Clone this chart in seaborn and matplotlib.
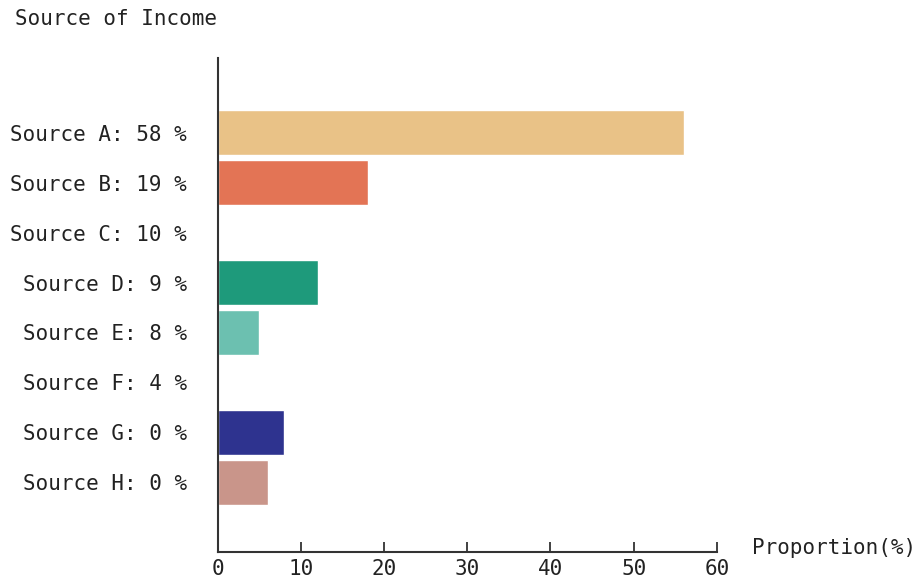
import matplotlib
matplotlib.use("Agg")
import matplotlib.pyplot as plt
import seaborn as sns
import pandas as pd

categories = ["Source A", "Source B", "Source C", "Source D",
              "Source E", "Source F", "Source G", "Source H"]
label_pcts = [58, 19, 10, 9, 8, 4, 0, 0]
bar_values = [56, 18, 0, 12, 5, 0, 8, 6]
colors = ["#E9C287", "#E37455", "#F2A65A", "#1E9A7B",
          "#6CC0B0", "#9CB4D8", "#2E338F", "#C9958A"]
x_ticks = [0, 10, 20, 30, 40, 50, 60]

sns.set_theme(style="white")
plt.rcParams["font.family"] = ["DejaVu Sans Mono", "DejaVu Sans"]

df = pd.DataFrame({"cat": categories, "val": bar_values})

fig = plt.figure(figsize=(9.19, 5.85), dpi=100)
ax = fig.add_axes([0.237, 0.0564, 0.543, 0.8446])

sns.barplot(data=df, x="val", y="cat", hue="cat", order=categories,
            palette=dict(zip(categories, colors)), orient="h",
            width=0.9, legend=False, ax=ax, saturation=1)

fs = 15
ax.set_xlim(0, 60)
ax.set_ylim(len(categories) - 1 + 1.4, -1.5)
ax.set_xticks(x_ticks)
ax.set_xticklabels([str(t) for t in x_ticks], fontsize=fs, color="#222222")
ax.set_yticks(range(len(categories)))
ax.set_yticklabels([f"{c}: {p} %" for c, p in zip(categories, label_pcts)],
                   fontsize=fs, color="#222222")

ax.tick_params(axis="y", length=0, pad=22)
ax.tick_params(axis="x", direction="in", length=7, width=1.3,
               color="#333333", pad=5, bottom=True)

for s in ["top", "right"]:
    ax.spines[s].set_visible(False)
for s in ["left", "bottom"]:
    ax.spines[s].set_color("#333333")
    ax.spines[s].set_linewidth(1.5)

ax.set_ylabel("")
ax.set_xlabel("Proportion(%)", fontsize=fs, color="#222222",
              ha="left", va="center")
ax.xaxis.set_label_coords(1.07, 0.008)

fig.text(15 / 919, 1 - 19 / 585, "Source of Income", fontsize=fs,
         color="#222222", ha="left", va="center")

fig.savefig("out.png", dpi=100)
